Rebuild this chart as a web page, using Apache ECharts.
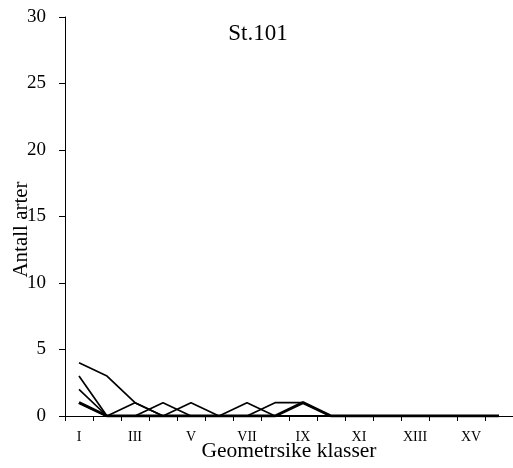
<!DOCTYPE html>
<html><head><meta charset="utf-8">
<script src="https://cdn.jsdelivr.net/npm/echarts@6/dist/echarts.min.js"></script>
<style>html,body{margin:0;padding:0;background:#fff}#c{width:513px;height:468px}</style>
</head><body><div id="c"></div>
<script>
var categories = ['I','II','III','IV','V','VI','VII','VIII','IX','X','XI','XII','XIII','XIV','XV','XVI'];
var s1 = [4,3,1,0,0,0,0,0,0,0,0,0,0,0,0,0];
var s2 = [3,0,0,1,0,0,0,0,0,0,0,0,0,0,0,0];
var s3 = [2,0,1,0,0,0,0,0,0,0,0,0,0,0,0,0];
var s4 = [1,0,0,0,0,0,0,0,1,0,0,0,0,0,0,0];
var s5 = [1,0,0,0,1,0,1,0,0,0,0,0,0,0,0,0];
var s6 = [1,0,0,0,0,0,0,1,1,0,0,0,0,0,0,0];
var yTicks = [0,5,10,15,20,25,30];
var seriesData = [s1,s2,s3,s4,s5,s6];
var widths = [1.7,1.7,1.7,3,1.7,1.7];
var font = '"Liberation Serif","Times New Roman",serif';
var chart = echarts.init(document.getElementById('c'));
chart.setOption({
  animation:false,
  title:{text:'St.101',left:253,top:17,textAlign:'center',textStyle:{fontFamily:font,fontSize:23,fontWeight:'normal',color:'#000'}},
  grid:{left:65,right:0,top:17,bottom:52,containLabel:false,outerBoundsMode:'none'},
  xAxis:{type:'category',data:categories,boundaryGap:true,
    name:'Geometrsike klasser',nameLocation:'middle',nameGap:24,nameMoveOverlap:false,
    nameTextStyle:{fontFamily:font,fontSize:21.5,color:'#000'},
    axisLine:{lineStyle:{color:'#000',width:1}},
    axisTick:{show:true,alignWithLabel:false,interval:0,length:5,lineStyle:{color:'#000'}},
    axisLabel:{interval:1,fontFamily:font,fontSize:14,color:'#000',margin:14},
    splitLine:{show:false}},
  yAxis:{type:'value',min:yTicks[0],max:yTicks[yTicks.length-1],interval:5,
    name:'Antall arter',nameLocation:'middle',nameGap:33,nameMoveOverlap:false,
    nameTextStyle:{fontFamily:font,fontSize:21,color:'#000',padding:[0,26,0,0]},
    axisLine:{show:true,lineStyle:{color:'#000',width:1}},
    axisTick:{show:true,length:6,lineStyle:{color:'#000'}},
    axisLabel:{fontFamily:font,fontSize:19,color:'#000',margin:19},
    splitLine:{show:false}},
  series:seriesData.map(function(d,i){return {type:'line',data:d,symbol:'none',
    lineStyle:{color:'#000',width:widths[i]},z:2};})
});
</script></body></html>
